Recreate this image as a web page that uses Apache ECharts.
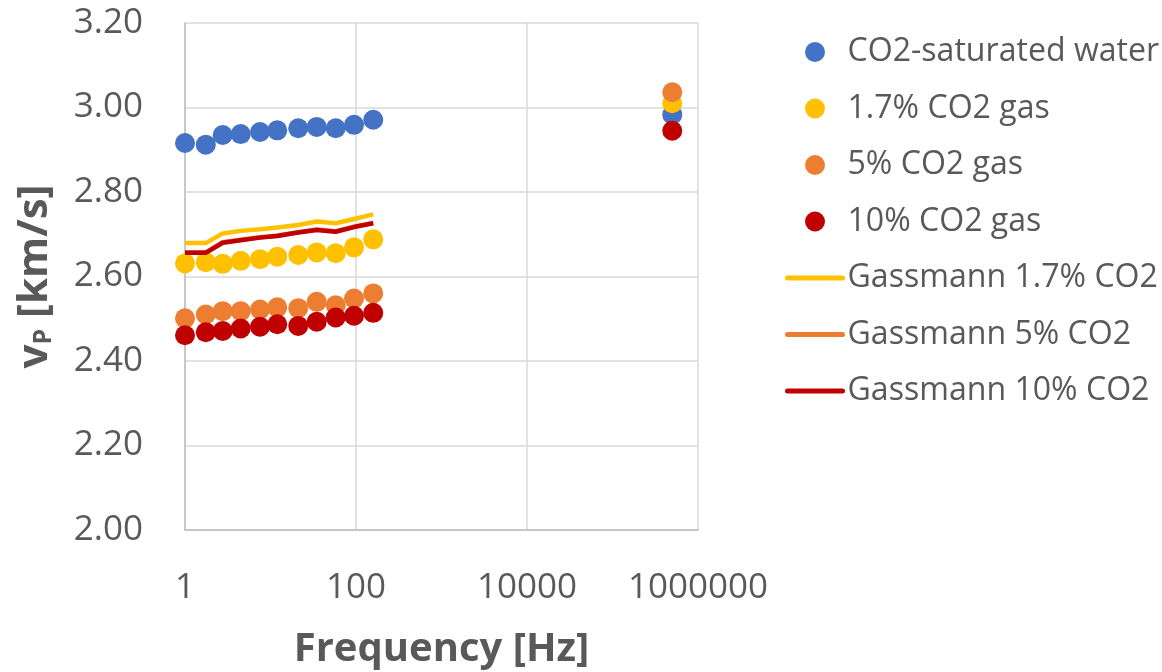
<!DOCTYPE html>
<html>
<head>
<meta charset="utf-8">
<script src="https://cdn.jsdelivr.net/npm/echarts@6/dist/echarts.min.js"></script>
<style>
  html, body { margin: 0; padding: 0; background: #ffffff; }
  #chart { width: 1162px; height: 672px; }
</style>
</head>
<body>
<div id="chart"></div>
<script>
// Frequencies [Hz]: low-frequency sweep plus the ultrasonic measurement
const freqScatter = [1, 1.75, 2.76, 4.48, 7.54, 12.0, 21.1, 34.7, 57.9, 94.8, 159, 500000];
const freqModel = [1, 1.75, 2.76, 4.48, 7.54, 12.0, 21.1, 34.7, 57.9, 94.8, 159];

// Measured P-wave velocity [km/s]
const vpWater = [2.916, 2.912, 2.935, 2.937, 2.942, 2.946, 2.951, 2.954, 2.951, 2.959, 2.971, 2.983];
const vpGas17 = [2.631, 2.634, 2.630, 2.637, 2.641, 2.647, 2.651, 2.657, 2.655, 2.669, 2.688, 3.010];
const vpGas5 = [2.501, 2.510, 2.518, 2.518, 2.522, 2.527, 2.525, 2.540, 2.532, 2.548, 2.560, 3.036];
const vpGas10 = [2.461, 2.468, 2.471, 2.477, 2.481, 2.487, 2.483, 2.493, 2.503, 2.507, 2.514, 2.945];

// Gassmann predictions [km/s]
const gassmann17 = [2.679, 2.679, 2.702, 2.708, 2.712, 2.716, 2.722, 2.730, 2.726, 2.736, 2.747];
const gassmann5 = [2.657, 2.657, 2.681, 2.687, 2.693, 2.697, 2.705, 2.711, 2.707, 2.718, 2.727];
const gassmann10 = [2.656, 2.656, 2.680, 2.686, 2.692, 2.696, 2.704, 2.710, 2.706, 2.717, 2.726];

// Axis ticks
const xTickLabels = ['1', '100', '10000', '1000000'];
const yTicks = [2.0, 2.2, 2.4, 2.6, 2.8, 3.0, 3.2];

const seriesNames = ['CO2-saturated water', '1.7% CO2 gas', '5% CO2 gas', '10% CO2 gas',
  'Gassmann 1.7% CO2', 'Gassmann 5% CO2', 'Gassmann 10% CO2'];
const colors = ['#4472C4', '#FFC000', '#ED7D31', '#C00000', '#FFC000', '#ED7D31', '#C00000'];

const FONT = "'Open Sans', 'Noto Sans', sans-serif";
const pair = (xs, ys) => xs.map((x, i) => [x, ys[i]]);

function scatter(idx, ys) {
  return {
    name: seriesNames[idx], type: 'scatter', symbol: 'circle', symbolSize: 20,
    itemStyle: { color: colors[idx], opacity: 1 },
    data: pair(freqScatter, ys)
  };
}
function model(idx, ys) {
  return {
    name: seriesNames[idx], type: 'line', symbol: 'none', showSymbol: false,
    lineStyle: { color: colors[idx], width: 4.5 },
    itemStyle: { color: colors[idx] },
    data: pair(freqModel, ys)
  };
}

// Legend entries: dots for measurements, plain strokes for the model curves
const legendData = seriesNames.map((n, i) => i < 4
  ? { name: n, icon: 'circle' }
  : { name: n, itemStyle: { color: 'rgba(0,0,0,0)', borderWidth: 0, opacity: 0 },
      lineStyle: { color: colors[i], width: 5, cap: 'round' } });

const chart = echarts.init(document.getElementById('chart'), null, { renderer: 'canvas' });
chart.setOption({
  animation: false,
  backgroundColor: '#ffffff',
  grid: { left: 185, right: 464, top: 23, bottom: 142, containLabel: false, outerBoundsMode: 'none' },
  xAxis: {
    type: 'log', logBase: 100, min: 1, max: 1000000,
    name: 'Frequency [Hz]', nameLocation: 'middle', nameGap: 100,
    nameTextStyle: { fontFamily: FONT, fontSize: 40, fontWeight: 'bold', color: '#595959' },
    axisLine: { show: true, lineStyle: { color: '#bfbfbf', width: 1.5 } },
    axisTick: { show: false },
    axisLabel: {
      margin: 41, fontFamily: FONT, fontSize: 35, color: '#595959',
      formatter: (v, i) => xTickLabels[i]
    },
    splitLine: { show: true, lineStyle: { color: '#d9d9d9', width: 1.5 } },
    minorTick: { show: false }, minorSplitLine: { show: false }
  },
  yAxis: {
    type: 'value', min: yTicks[0], max: yTicks[yTicks.length - 1], interval: 0.2,
    name: '{b|v}{s|P} {b|[km/s]}', nameLocation: 'middle', nameGap: 129, nameRotate: 90,
    nameTextStyle: {
      fontFamily: FONT, fontSize: 42, fontWeight: 'bold', color: '#595959',
      rich: {
        b: { fontFamily: FONT, fontSize: 42, fontWeight: 'bold', color: '#595959', lineHeight: 42 },
        s: { fontFamily: FONT, fontSize: 25, fontWeight: 'bold', color: '#595959', verticalAlign: 'bottom' }
      }
    },
    axisLine: { show: true, lineStyle: { color: '#bfbfbf', width: 1.5 } },
    axisTick: { show: false },
    axisLabel: {
      margin: 42, fontFamily: FONT, fontSize: 35, color: '#595959',
      formatter: v => v.toFixed(2)
    },
    splitLine: { show: true, lineStyle: { color: '#d9d9d9', width: 1.5 } }
  },
  legend: {
    orient: 'vertical', left: 780, top: 31,
    itemWidth: 55, itemHeight: 20, itemGap: 24.5,
    textStyle: { fontFamily: FONT, fontSize: 32.1, color: '#595959' },
    data: legendData
  },
  series: [
    scatter(0, vpWater),
    scatter(1, vpGas17),
    scatter(2, vpGas5),
    scatter(3, vpGas10),
    model(4, gassmann17),
    model(5, gassmann5),
    model(6, gassmann10)
  ]
});
</script>
</body>
</html>
